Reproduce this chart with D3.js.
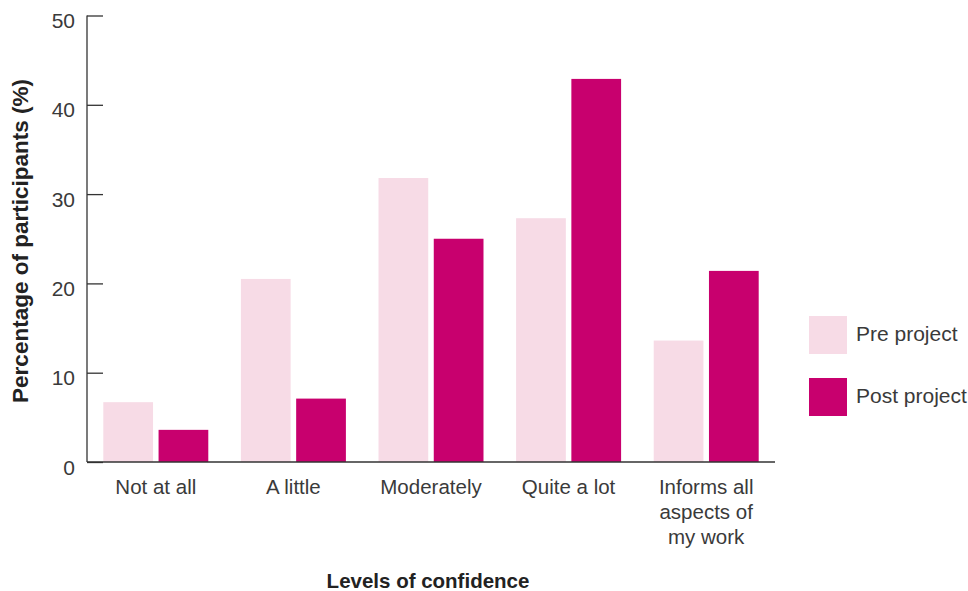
<!DOCTYPE html>
<html>
<head>
<meta charset="utf-8">
<script src="https://cdn.jsdelivr.net/npm/d3@7"></script>
<style>
  body { margin: 0; background: #fff; }
  text { font-family: "Liberation Sans", Arial, sans-serif; }
</style>
</head>
<body>
<div id="plot"></div>
<script>
const categories = ["Not at all", "A little", "Moderately", "Quite a lot", "Informs all aspects of my work"];
const categoryLines = [["Not at all"], ["A little"], ["Moderately"], ["Quite a lot"], ["Informs all", "aspects of", "my work"]];
const series = ["Pre project", "Post project"];
const preValues = [6.7, 20.5, 31.8, 27.3, 13.6];
const postValues = [3.6, 7.1, 25.0, 42.9, 21.4];
const yTicks = [0, 10, 20, 30, 40, 50];
const colors = ["#f7dbe6", "#c8006e"];

const width = 968, height = 591;
const x0Left = 87, x0Right = 775, yTop = 15.5, yBottom = 462;

const data = categories.map((c, i) => ({cat: c, values: [preValues[i], postValues[i]]}));

const svg = d3.select("#plot")
  .append("svg")
    .attr("width", width)
    .attr("height", height);

const x0 = d3.scaleBand()
  .domain(categories)
  .range([x0Left, x0Right])
  .paddingInner(0.237)
  .paddingOuter(0.1185);

const x1 = d3.scaleBand()
  .domain(series)
  .range([0, x0.bandwidth()])
  .paddingInner(0.1);

const y = d3.scaleLinear()
  .domain([0, 50])
  .range([yBottom, yTop]);

// bars
svg.append("g")
  .selectAll("g")
  .data(data)
  .join("g")
    .attr("transform", d => `translate(${x0(d.cat)},0)`)
  .selectAll("rect")
  .data(d => d.values.map((v, j) => ({s: series[j], v: v, j: j})))
  .join("rect")
    .attr("x", d => x1(d.s))
    .attr("y", d => y(d.v))
    .attr("width", x1.bandwidth())
    .attr("height", d => yBottom - y(d.v))
    .attr("fill", d => colors[d.j]);

// y axis
const yAxis = svg.append("g")
  .attr("transform", `translate(${x0Left},0)`)
  .call(d3.axisRight(y).tickValues(yTicks).tickSize(16).tickFormat(""));
yAxis.select(".domain").remove();
yAxis.selectAll(".tick line").attr("stroke", "#333").attr("stroke-width", 1.3);
svg.append("line")
  .attr("x1", x0Left).attr("x2", x0Left)
  .attr("y1", yTop).attr("y2", yBottom)
  .attr("stroke", "#333").attr("stroke-width", 1.3);

svg.append("g")
  .selectAll("text")
  .data(yTicks)
  .join("text")
    .attr("x", 75)
    .attr("y", d => y(d) + 12.5)
    .attr("text-anchor", "end")
    .attr("font-size", 21)
    .attr("fill", "#3a3a3a")
    .text(d => d);

// x axis
svg.append("line")
  .attr("x1", x0Left).attr("x2", x0Right)
  .attr("y1", yBottom).attr("y2", yBottom)
  .attr("stroke", "#333").attr("stroke-width", 1.3);

const catLabels = svg.append("g")
  .selectAll("text")
  .data(categories)
  .join("text")
    .attr("x", d => x0(d) + x0.bandwidth() / 2)
    .attr("y", 494)
    .attr("text-anchor", "middle")
    .attr("font-size", 20.5)
    .attr("fill", "#3a3a3a");
catLabels.selectAll("tspan")
  .data((d, i) => categoryLines[i])
  .join("tspan")
    .attr("x", function() { return d3.select(this.parentNode).attr("x"); })
    .attr("dy", (d, i) => i === 0 ? 0 : 25)
    .text(d => d);

// axis titles
svg.append("text")
  .attr("x", 428)
  .attr("y", 588)
  .attr("text-anchor", "middle")
  .attr("font-size", 20.5)
  .attr("font-weight", "bold")
  .attr("fill", "#222")
  .text("Levels of confidence");

svg.append("text")
  .attr("transform", "translate(28,241) rotate(-90)")
  .attr("text-anchor", "middle")
  .attr("font-size", 22.5)
  .attr("font-weight", "bold")
  .attr("fill", "#222")
  .text("Percentage of participants (%)");

// legend
const legend = svg.append("g")
  .selectAll("g")
  .data(series)
  .join("g")
    .attr("transform", (d, i) => `translate(809,${316 + i * 62})`);
legend.append("rect")
  .attr("width", 38)
  .attr("height", 38)
  .attr("fill", (d, i) => colors[i]);
legend.append("text")
  .attr("x", 47)
  .attr("y", 25)
  .attr("font-size", 21)
  .attr("fill", "#3a3a3a")
  .text(d => d);
</script>
</body>
</html>
